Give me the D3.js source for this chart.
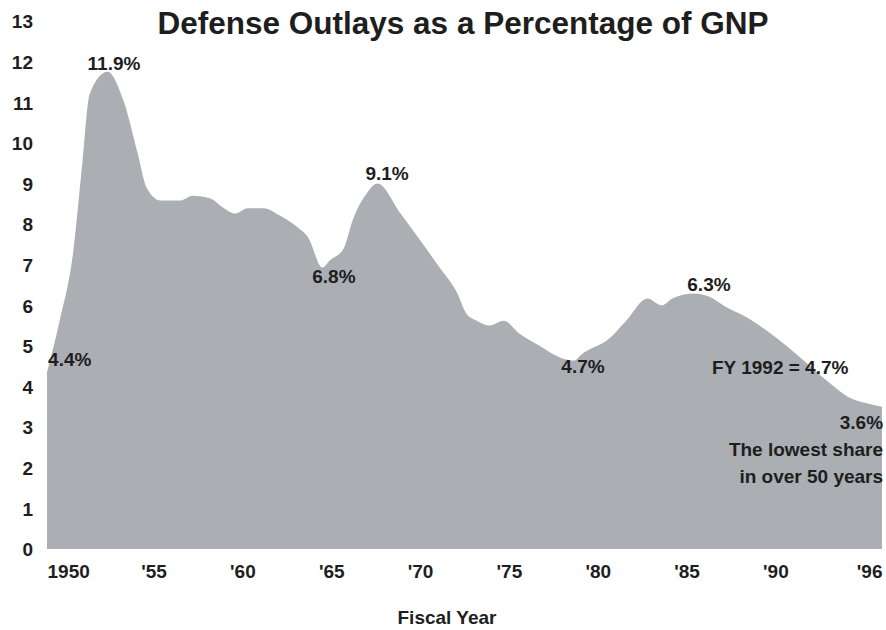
<!DOCTYPE html>
<html>
<head>
<meta charset="utf-8">
<script src="https://cdn.jsdelivr.net/npm/d3@7"></script>
<style>
  body { margin: 0; background: #fff; }
  text { font-family: "Liberation Sans", Arial, sans-serif; font-weight: bold; fill: #1e1e1e; }
</style>
</head>
<body>
<div id="chart"></div>
<script>
// fiscal year and outlays as % of GNP
const years = [1949, 1949.7, 1950.5, 1951.0, 1951.4, 1952.4, 1953.3, 1954.1, 1954.6, 1955.4,
  1956.5, 1957.2, 1958.2, 1958.9, 1959.6, 1960.3, 1961.2, 1962.1, 1963.1, 1963.7,
  1964.5, 1964.9, 1965.7, 1966.2, 1967.0, 1967.6, 1968.9, 1970.0, 1971.1, 1972.1,
  1972.6, 1973.2, 1973.9, 1974.7, 1975.6, 1976.7, 1977.9, 1978.7, 1979.0, 1980.7,
  1981.6, 1982.8, 1983.6, 1984.2, 1985.4, 1986.1, 1987.3, 1988.4, 1989.5, 1990.6,
  1991.8, 1992.9, 1994.0, 1995.2, 1996.0];
const pctGNP = [4.35, 5.6, 7.4, 9.55, 11.2, 11.75, 11.05, 9.75, 8.9, 8.58,
  8.58, 8.7, 8.63, 8.41, 8.26, 8.39, 8.39, 8.21, 7.92, 7.67,
  6.93, 7.1, 7.4, 8.09, 8.76, 9.0, 8.26, 7.6, 6.93, 6.29,
  5.8, 5.62, 5.5, 5.62, 5.3, 5.01, 4.71, 4.64, 4.76, 5.2,
  5.62, 6.17, 6.0, 6.17, 6.29, 6.24, 5.94, 5.7, 5.38, 5.01,
  4.56, 4.14, 3.77, 3.58, 3.5];

const yTicks = d3.range(0, 14);
const xTickYears = [1950, 1955, 1960, 1965, 1970, 1975, 1980, 1985, 1990, 1996];
const xTickLabels = ["1950", "'55", "'60", "'65", "'70", "'75", "'80", "'85", "'90", "'96"];

const noteTexts = ["11.9%", "4.4%", "9.1%", "6.8%", "4.7%", "6.3%", "FY 1992 = 4.7%", "3.6%",
  "The lowest share", "in over 50 years"];

const width = 886, height = 630;
const data = years.map((yr, i) => ({ year: yr, v: pctGNP[i] }));

const svg = d3.select("#chart").append("svg")
  .attr("width", width)
  .attr("height", height);

const x = d3.scaleLinear().domain([1949, 1996]).range([47, 882]);
const y = d3.scaleLinear().domain([0, 13]).range([549, 21]);

// area
const area = d3.area()
  .x(d => x(d.year))
  .y0(y(0))
  .y1(d => y(d.v))
  .curve(d3.curveMonotoneX);

svg.append("path")
  .datum(data)
  .attr("d", area)
  .attr("fill", "#abaeb3");

// y axis
const yAxis = svg.append("g")
  .attr("transform", "translate(33,0)")
  .call(d3.axisLeft(y).tickValues(yTicks).tickSize(0).tickPadding(0).tickFormat(d3.format("d")));
yAxis.select(".domain").remove();
yAxis.selectAll("text")
  .attr("dy", "0.36em")
  .style("font-size", "19px");

// x axis
const xAxis = svg.append("g")
  .attr("transform", "translate(0," + y(0) + ")")
  .call(d3.axisBottom(x).tickValues(xTickYears).tickSize(0)
    .tickFormat((d, i) => xTickLabels[i]));
xAxis.select(".domain").remove();
xAxis.selectAll("text")
  .attr("y", 29)
  .attr("dy", 0)
  .style("font-size", "19px");
xAxis.selectAll(".tick").filter((d, i) => i === 0).select("text")
  .attr("text-anchor", "start").attr("x", x(1949) - x(1950));
xAxis.selectAll(".tick").filter((d, i) => i === xTickYears.length - 1).select("text")
  .attr("text-anchor", "end").attr("x", 0);

// title
svg.append("text")
  .attr("x", 463)
  .attr("y", 34)
  .attr("text-anchor", "middle")
  .style("font-size", "31.5px")
  .text("Defense Outlays as a Percentage of GNP");

// axis title
svg.append("text")
  .attr("x", 447)
  .attr("y", 624)
  .attr("text-anchor", "middle")
  .style("font-size", "19px")
  .text("Fiscal Year");

// annotations, placed in chart coordinates
const notePlaces = [
  [1952.77, 11.79, "middle"],
  [1949.06, 4.51, "start"],
  [1968.14, 9.08, "middle"],
  [1965.15, 6.54, "middle"],
  [1979.17, 4.34, "middle"],
  [1986.26, 6.36, "middle"],
  [1986.43, 4.32, "start"],
  [1996.06, 2.96, "end"],
  [1996.06, 2.29, "end"],
  [1996.06, 1.63, "end"]
];

svg.selectAll(".note")
  .data(noteTexts)
  .enter()
  .append("text")
  .attr("class", "note")
  .attr("x", (d, i) => x(notePlaces[i][0]))
  .attr("y", (d, i) => y(notePlaces[i][1]))
  .attr("text-anchor", (d, i) => notePlaces[i][2])
  .style("font-size", "19px")
  .text(d => d);
</script>
</body>
</html>
